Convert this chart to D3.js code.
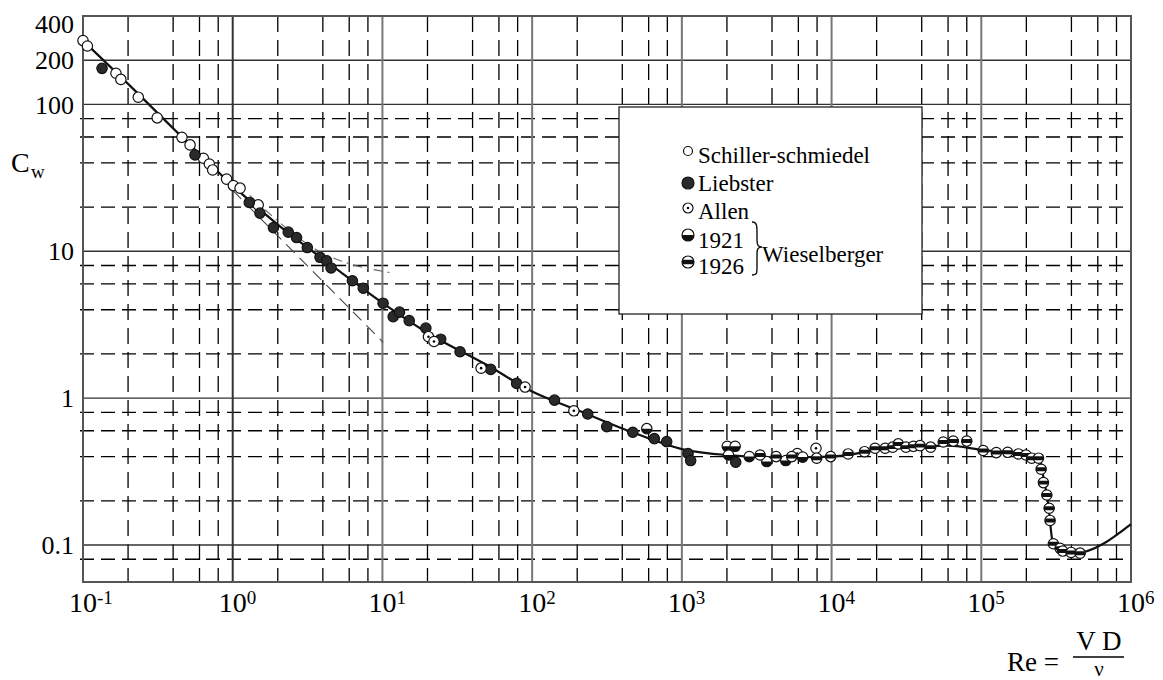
<!DOCTYPE html>
<html>
<head>
<meta charset="utf-8">
<script src="https://cdn.jsdelivr.net/npm/d3@7"></script>
<style>
  body { margin: 0; background: #fff; }
  svg { display: block; }
  text { font-family: "Liberation Serif", "DejaVu Serif", "Noto Serif", serif; }
</style>
</head>
<body>
<script>
/* Drag coefficient of a sphere vs Reynolds number */

// Axis ticks
const xDecades = [0.1, 1, 10, 1e2, 1e3, 1e4, 1e5, 1e6];
const xExponents = ['-1', '0', '1', '2', '3', '4', '5', '6'];
const gridMultipliers = [2, 4, 6, 8];
const yMajor = [0.1, 1, 10, 100, 200];
const yMinor = [0.08, 0.2, 0.4, 0.6, 0.8, 2, 4, 6, 8, 20, 40, 60, 80];
const yTickValues = [400, 200, 100, 10, 1, 0.1];
const yTickLabels = ['400', '200', '100', '10', '1', '0.1'];

// Mean curve
const curveRe = [0.1, 0.2, 0.5, 1, 2, 5, 10, 20, 50, 100, 200, 500, 1000, 2000, 5000,
  1e4, 2e4, 4e4, 6e4, 1e5, 2e5, 2.45e5, 2.6e5, 2.8e5, 3e5, 3.5e5, 4.2e5, 1e6];
const curveCw = [272, 138, 55, 28, 15.2, 7.5, 4.45, 2.78, 1.68, 1.11, 0.83, 0.57, 0.45, 0.41, 0.395,
  0.40, 0.44, 0.47, 0.475, 0.445, 0.41, 0.39, 0.29, 0.19, 0.105, 0.09, 0.088, 0.139];

// Stokes / Oseen approximations (thin dashed)
const stokesRe = [1.0, 10.1];
const stokesCw = [26, 2.4];
const oseenRe = [1.3, 3.6, 11.8];
const oseenCw = [24, 10.3, 7.1];

// Measurements
const schillerRe = [0.1, 0.107, 0.166, 0.179, 0.234, 0.313, 0.458, 0.519, 0.637, 0.698, 0.735, 0.91, 1.01, 1.12, 1.48];
const schillerCw = [272, 250, 163, 148, 112, 81, 59.7, 53, 43, 39.3, 35.8, 31, 28, 26.9, 20.7];

const liebsterRe = [0.134, 0.56, 1.29, 1.52, 1.87, 2.35, 2.67, 3.15, 3.83, 4.24, 4.54, 6.3, 7.45, 10.1, 11.8, 13,
  15.1, 19.5, 24.5, 33, 52.9, 78.8, 141, 235, 315, 470, 655, 792, 1100, 1145, 2290];
const liebsterCw = [176, 45.3, 21.5, 18.2, 14.5, 13.5, 12.4, 10.6, 9.1, 8.6, 7.7, 6.3, 5.6, 4.43, 3.59, 3.85,
  3.37, 3.0, 2.52, 2.07, 1.57, 1.26, 0.97, 0.78, 0.64, 0.586, 0.53, 0.506, 0.42, 0.376, 0.366];

const allenRe = [20.3, 22.1, 45.6, 89.7, 190, 5900, 7870];
const allenCw = [2.62, 2.43, 1.6, 1.19, 0.82, 0.42, 0.456];

const w1921Re = [583, 2010, 2270, 2050, 2820, 3690, 4940, 6410];
const w1921Cw = [0.62, 0.47, 0.47, 0.41, 0.40, 0.37, 0.376, 0.397];

const w1926Re = [3330, 4260, 5420, 7950, 9860, 12900, 16600, 19500, 22800, 25600, 27900, 31400, 35200, 39000,
  45900, 55700, 65000, 80000, 103000, 126000, 150000, 177000, 199000, 217000, 241000, 251000, 260000,
  274000, 284000, 288000, 303000, 336000, 350000, 398000, 457000];
const w1926Cw = [0.41, 0.40, 0.40, 0.39, 0.40, 0.417, 0.432, 0.456, 0.456, 0.464, 0.488, 0.464, 0.47, 0.475,
  0.464, 0.503, 0.51, 0.51, 0.44, 0.426, 0.428, 0.417, 0.41, 0.39, 0.39, 0.328, 0.266,
  0.219, 0.178, 0.147, 0.102, 0.095, 0.091, 0.089, 0.088];

// Legend
const legendKinds = ['open', 'filled', 'dot', 'half', 'band'];
const legendLabels = ['Schiller-schmiedel', 'Liebster', 'Allen', '1921', '1926'];

// Svg and scales
const width = 1163;
const height = 680;
const svg = d3.select('body').append('svg').attr('width', width).attr('height', height);

const x = d3.scaleLog().domain([0.1, 1e6]).range([83, 1131]);
const y = d3.scaleLog().domain([0.056, 400]).range([582, 16]);
const [x0, x1] = x.range();
const [y1, y0] = y.range();

// Grid
const grid = svg.append('g').attr('class', 'grid');

const xMinor = [];
xDecades.slice(0, -1).forEach((d) => gridMultipliers.forEach((m) => xMinor.push(d * m)));

grid
  .selectAll('.x-minor')
  .data(xMinor)
  .enter()
  .append('line')
  .attr('x1', (d) => x(d))
  .attr('x2', (d) => x(d))
  .attr('y1', y0)
  .attr('y2', y1)
  .attr('stroke', '#000')
  .attr('stroke-width', 1.3)
  .attr('stroke-dasharray', '16,8');

grid
  .selectAll('.y-minor')
  .data(yMinor)
  .enter()
  .append('line')
  .attr('x1', x0 - 3)
  .attr('x2', x1)
  .attr('y1', (d) => y(d))
  .attr('y2', (d) => y(d))
  .attr('stroke', '#000')
  .attr('stroke-width', 1.3)
  .attr('stroke-dasharray', '14,7');

grid
  .selectAll('.y-major')
  .data(yMajor)
  .enter()
  .append('line')
  .attr('x1', x0)
  .attr('x2', x1)
  .attr('y1', (d) => y(d))
  .attr('y2', (d) => y(d))
  .attr('stroke', '#333')
  .attr('stroke-width', 1.4);

grid
  .selectAll('.x-major')
  .data(xDecades.slice(1, -1))
  .enter()
  .append('line')
  .attr('x1', (d) => x(d))
  .attr('x2', (d) => x(d))
  .attr('y1', y0)
  .attr('y2', y1)
  .attr('stroke', (d) => (d === 1 ? '#333' : '#777'))
  .attr('stroke-width', 2);

// Frame
svg
  .append('rect')
  .attr('x', x0)
  .attr('y', y0)
  .attr('width', x1 - x0)
  .attr('height', y1 - y0)
  .attr('fill', 'none')
  .attr('stroke', '#555')
  .attr('stroke-width', 2);

// Tick labels
svg
  .selectAll('.y-label')
  .data(yTickValues)
  .enter()
  .append('text')
  .attr('x', 74)
  .attr('y', (d) => y(d) + (d === 400 ? 8 : 0))
  .attr('dy', '0.35em')
  .attr('text-anchor', 'end')
  .attr('font-size', '26px')
  .text((d, i) => yTickLabels[i]);

const xLabels = svg.selectAll('.x-label').data(xDecades).enter().append('g');

xLabels
  .append('text')
  .attr('x', (d) => x(d))
  .attr('y', 612)
  .attr('text-anchor', 'middle')
  .attr('font-size', '28px')
  .text('10');

xLabels
  .append('text')
  .attr('x', (d) => x(d) + 14)
  .attr('y', 604)
  .attr('font-size', '19px')
  .text((d, i) => xExponents[i]);

// Axis titles
svg.append('text').attr('x', 11).attr('y', 172).attr('font-size', '28px').text('C');
svg.append('text').attr('x', 31).attr('y', 178).attr('font-size', '19px').text('w');

svg.append('text').attr('x', 1007).attr('y', 671).attr('font-size', '27px').text('Re =');
svg
  .append('text')
  .attr('x', 1099)
  .attr('y', 650)
  .attr('text-anchor', 'middle')
  .attr('font-size', '27px')
  .text('V D');
svg
  .append('line')
  .attr('x1', 1073)
  .attr('x2', 1124)
  .attr('y1', 657)
  .attr('y2', 657)
  .attr('stroke', '#000')
  .attr('stroke-width', 1.3);
svg
  .append('text')
  .attr('x', 1099)
  .attr('y', 676)
  .attr('text-anchor', 'middle')
  .attr('font-size', '21px')
  .text('ν');

// Marker drawing function
function marker(sel, kind, r) {
  sel
    .append('circle')
    .attr('r', r)
    .attr('fill', kind === 'filled' ? '#2a2a2a' : '#fff')
    .attr('stroke', '#111')
    .attr('stroke-width', 1.2);
  if (kind === 'dot') {
    sel.append('circle').attr('r', 1.3).attr('fill', '#000');
  }
  if (kind === 'half') {
    sel
      .append('path')
      .attr('d', `M${-r},0 A${r},${r} 0 0 0 ${r},0 Z`)
      .attr('fill', '#111');
  }
  if (kind === 'band') {
    const h = r * 0.38;
    const w = Math.sqrt(r * r - h * h);
    sel
      .append('path')
      .attr('d', `M${-w},${-h} L${w},${-h} A${r},${r} 0 0 1 ${w},${h} L${-w},${h} A${r},${r} 0 0 1 ${-w},${-h} Z`)
      .attr('fill', '#111');
  }
}

// Legend box
const legend = svg.append('g').attr('class', 'legend');

legend
  .append('rect')
  .attr('x', 619)
  .attr('y', 107)
  .attr('width', 303)
  .attr('height', 207)
  .attr('fill', '#fff')
  .attr('stroke', '#222')
  .attr('stroke-width', 1.3);

const legendSymY = [151, 183, 208, 235, 262];
const legendTextY = [163, 191, 219, 248, 274];
const legendSymR = [4.5, 6, 5, 6, 6];

legendKinds.forEach((k, i) => {
  legend
    .append('g')
    .attr('transform', `translate(688,${legendSymY[i]})`)
    .call(marker, k, legendSymR[i]);
  legend
    .append('text')
    .attr('x', 698)
    .attr('y', legendTextY[i])
    .attr('font-size', '23px')
    .text(legendLabels[i]);
});

legend
  .append('path')
  .attr('d', 'M752,222 C757,222 757,226 757,232 L757,240 C757,245 758,247 762,247 C758,247 757,249 757,254 L757,267 C757,273 757,275 752,275')
  .attr('fill', 'none')
  .attr('stroke', '#111')
  .attr('stroke-width', 1.4);

legend
  .append('text')
  .attr('x', 762)
  .attr('y', 262)
  .attr('font-size', '23px')
  .text('Wieselberger');

// Lines
const line = d3
  .line()
  .x((d) => x(d[0]))
  .y((d) => y(d[1]));

svg
  .append('path')
  .datum(d3.zip(stokesRe, stokesCw))
  .attr('d', line)
  .attr('fill', 'none')
  .attr('stroke', '#444')
  .attr('stroke-width', 1.1)
  .attr('stroke-dasharray', '12,7');

svg
  .append('path')
  .datum(d3.zip(oseenRe, oseenCw))
  .attr('d', line.curve(d3.curveMonotoneX))
  .attr('fill', 'none')
  .attr('stroke', '#666')
  .attr('stroke-width', 1.1)
  .attr('stroke-dasharray', '9,5,2,5');

svg
  .append('path')
  .datum(d3.zip(curveRe, curveCw))
  .attr('d', line.curve(d3.curveMonotoneX))
  .attr('fill', 'none')
  .attr('stroke', '#111')
  .attr('stroke-width', 2.2);

// Data points
const series = [
  { kind: 'open', re: schillerRe, cw: schillerCw },
  { kind: 'filled', re: liebsterRe, cw: liebsterCw },
  { kind: 'dot', re: allenRe, cw: allenCw },
  { kind: 'half', re: w1921Re, cw: w1921Cw },
  { kind: 'band', re: w1926Re, cw: w1926Cw },
];

series.forEach((s) => {
  svg
    .append('g')
    .selectAll('g')
    .data(d3.zip(s.re, s.cw))
    .enter()
    .append('g')
    .attr('transform', (d) => `translate(${x(d[0])},${y(d[1])})`)
    .each(function () {
      marker(d3.select(this), s.kind, 5.2);
    });
});
</script>
</body>
</html>
